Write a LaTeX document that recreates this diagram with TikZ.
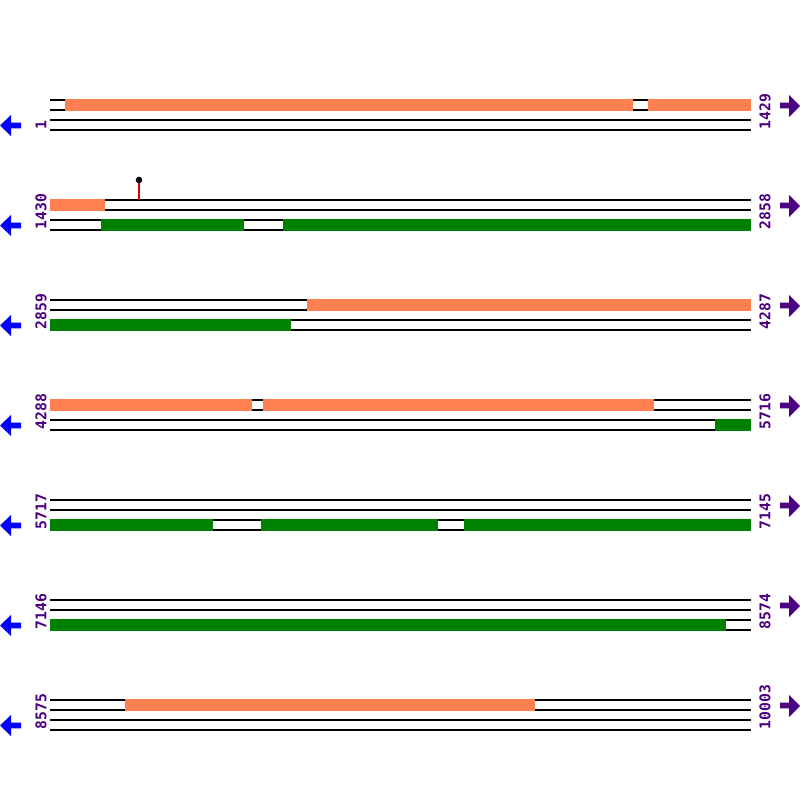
\documentclass[tikz,border=0pt]{standalone}
\usepackage{fontspec}
\newfontfamily\nummono{DejaVu Sans Mono}
\definecolor{seqorange}{HTML}{FF7F50}
\definecolor{seqgreen}{HTML}{008000}
\definecolor{seqpurple}{HTML}{4B0082}

\begin{document}
\begin{tikzpicture}[x=0.01cm,y=-0.01cm]
\tikzstyle{every node}=[font=\nummono\bfseries\fontsize{4.2}{5}\selectfont, text=seqpurple, inner sep=0pt]
\tikzstyle{strand}=[black, line width=0.3pt]
\tikzstyle{fwdbar}=[fill=seqorange]
\tikzstyle{revbar}=[fill=seqgreen]
\tikzstyle{numlabel}=[rotate=90, anchor=west]

\useasboundingbox (0,0) rectangle (800,800);

% one row per 1429 bases
\foreach \y/\first/\last/\row in {100/1/1429/a, 200/1430/2858/b, 300/2859/4287/c,
    400/4288/5716/d, 500/5717/7145/e, 600/7146/8574/f, 700/8575/10003/g} {
  \draw[strand] (50,\y) -- (751,\y);
  \draw[strand] (50,\y+10) -- (751,\y+10);
  \draw[strand] (50,\y+20) -- (751,\y+20);
  \draw[strand] (50,\y+30) -- (751,\y+30);
  \node[numlabel] (first\row) at (41,\y+30) {\first};
  \node[numlabel] (last\row) at (765,\y+30) {\last};
  \fill[blue] (0,\y+25.5) -- (11,\y+15) -- (11,\y+22.7) -- (21,\y+22.7)
    -- (21,\y+28.3) -- (11,\y+28.3) -- (11,\y+36) -- cycle;
  \fill[seqpurple] (800,\y+6) -- (789,\y-5) -- (789,\y+2.7) -- (780,\y+2.7)
    -- (780,\y+8.3) -- (789,\y+8.3) -- (789,\y+17) -- cycle;
}

% row 1
\fill[fwdbar] (65,99.3) rectangle (633,110.7);
\fill[fwdbar] (648,99.3) rectangle (751,110.7);

% row 2
\fill[fwdbar] (50,199.3) rectangle (105,210.7);
\fill[revbar] (101,219.3) rectangle (244,230.7);
\fill[revbar] (283,219.3) rectangle (751,230.7);
\coordinate (stem) at (139,200);
\draw[red!85!black, line width=0.3pt] (stem) -- ++(0,-20) coordinate (head);
\fill[black] (head) circle (3.3);

% row 3
\fill[fwdbar] (307,299.3) rectangle (751,310.7);
\fill[revbar] (50,319.3) rectangle (291,330.7);

% row 4
\fill[fwdbar] (50,399.3) rectangle (252,410.7);
\fill[fwdbar] (263,399.3) rectangle (654,410.7);
\fill[revbar] (715,419.3) rectangle (751,430.7);

% row 5
\fill[revbar] (50,519.3) rectangle (213,530.7);
\fill[revbar] (261,519.3) rectangle (438,530.7);
\fill[revbar] (464,519.3) rectangle (751,530.7);

% row 6
\fill[revbar] (50,619.3) rectangle (726,630.7);

% row 7
\fill[fwdbar] (125,699.3) rectangle (535,710.7);
\end{tikzpicture}
\end{document}
